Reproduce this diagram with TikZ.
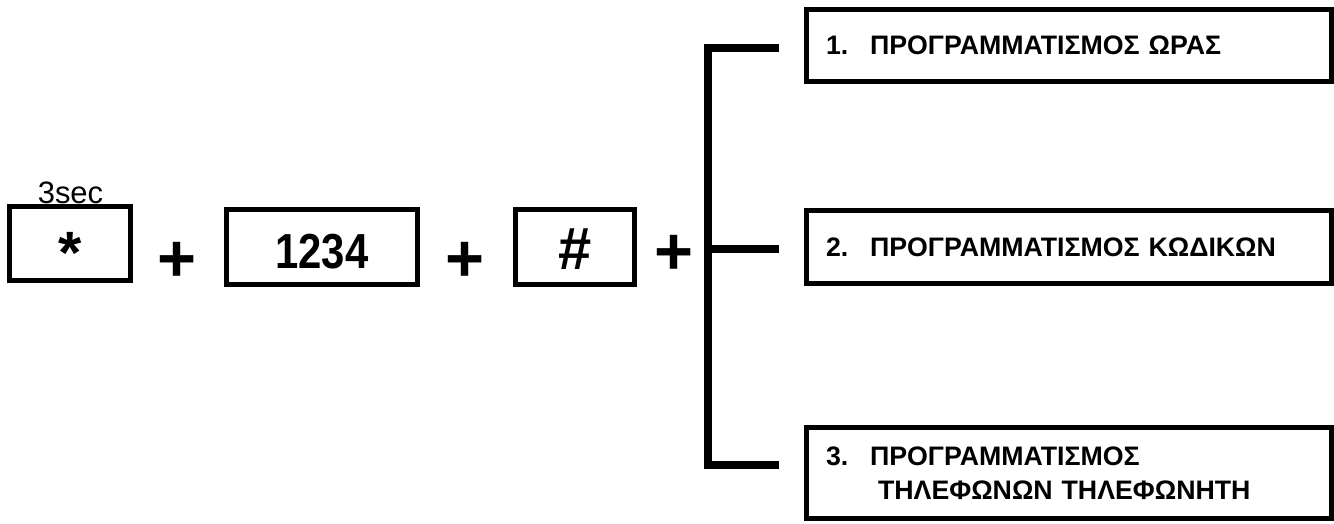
\documentclass[tikz,border=0pt]{standalone}
\usepackage{fontspec}
\setmainfont{Liberation Sans}
\tikzstyle{keybox} = [rectangle, minimum height=0.75cm, text centered, draw=black, line width=0.05cm, inner sep=0pt, font=\bfseries\fontsize{14}{16}\selectfont]
\tikzstyle{menubox} = [rectangle, minimum width=5.25cm, text width=4.85cm, inner xsep=0.2cm, inner ysep=0pt, align=left, anchor=west, draw=black, line width=0.05cm, font=\bfseries\fontsize{7.6}{9.7}\selectfont]
\tikzstyle{plus} = [inner sep=0pt, font=\bfseries\fontsize{19}{19}\selectfont]
\tikzstyle{bar} = [line width=0.08cm, line join=miter]
\newcommand{\narrow}[1]{\scalebox{0.85}[1]{#1}}
\newcommand{\menuno}[1]{\makebox[0.44cm][l]{#1}}

\begin{document}
\begin{tikzpicture}[x=0.01cm, y=-0.01cm]
    \useasboundingbox (0,0) rectangle (1334,523);
        \node[keybox, minimum width=1.21cm, minimum height=0.74cm, font=\bfseries\fontsize{17}{17}\selectfont] (A) at (70,243.5) {\raisebox{-0.3cm}[0pt][0pt]{*}};
        \node[keybox, minimum width=1.91cm] (B) at (322,247) {\raisebox{-0.21cm}[0pt][0pt]{\narrow{1234}}};
        \node[keybox, minimum width=1.19cm, font=\bfseries\fontsize{17}{17}\selectfont] (C) at (575,247) {\raisebox{-0.22cm}[0pt][0pt]{\#}};
        \node[anchor=base, inner sep=0pt, font=\fontsize{8.8}{10}\selectfont] (S) at (70.5,203) {3sec};
        \node[plus] (P1) at (177,262) {+};
        \node[plus] (P2) at (465,262) {+};
        \node[plus] (P3) at (674,255) {+};
        \node[menubox, minimum height=0.72cm] (M1) at (803.5,45.5) {\menuno{1.}ΠΡΟΓΡΑΜΜΑΤΙΣΜΟΣ ΩΡΑΣ};
        \node[menubox, minimum height=0.73cm] (M2) at (803.5,247) {\menuno{2.}ΠΡΟΓΡΑΜΜΑΤΙΣΜΟΣ ΚΩΔΙΚΩΝ};
        \node[menubox, minimum height=0.91cm] (M3) at (803.5,473) {\menuno{3.}ΠΡΟΓΡΑΜΜΑΤΙΣΜΟΣ\\\hspace*{0.52cm}ΤΗΛΕΦΩΝΩΝ ΤΗΛΕΦΩΝΗΤΗ};
        \coordinate (U) at (707.5,47.5);
        \coordinate (J) at (707.5,248.5);
        \coordinate (D) at (707.5,464.5);
        \coordinate (T1) at (779,47.5);
        \coordinate (T2) at (779,248.5);
        \coordinate (T3) at (779,464.5);
    \begin{scope}[bar]
        \draw (T1) -- (U) -- (D) -- (T3);
        \draw (J) -- (T2);
    \end{scope}
\end{tikzpicture}
\end{document}
